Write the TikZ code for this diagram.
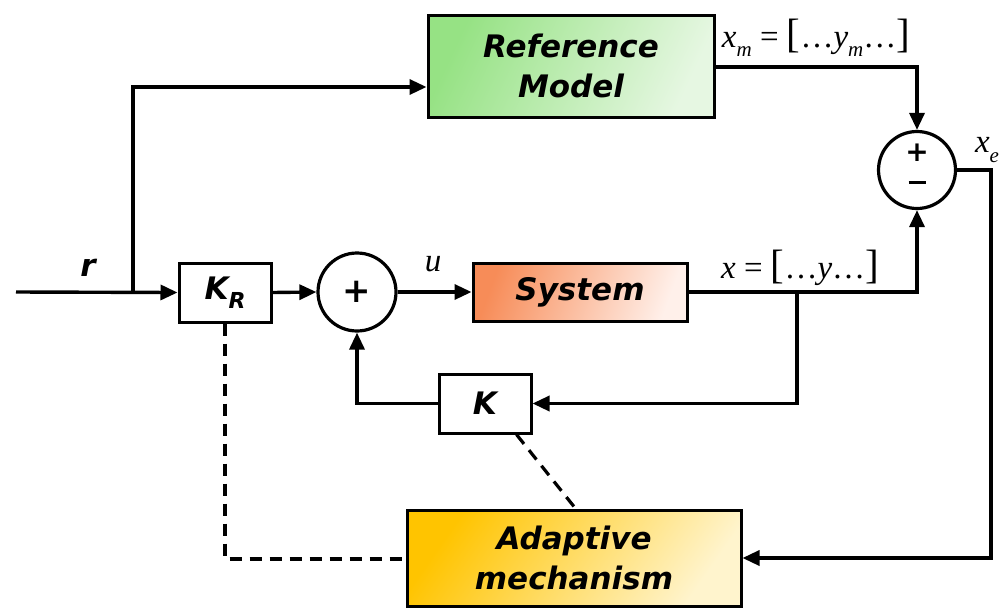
\documentclass[tikz,border=0pt]{standalone}
\usepackage{fontspec}
\newfontfamily\vb{DejaVu Sans}
\newfontfamily\tms{Liberation Serif}
\usetikzlibrary{arrows.meta,calc}
\definecolor{gA}{RGB}{150,226,132}
\definecolor{gB}{RGB}{230,247,226}
\definecolor{oA}{RGB}{247,140,88}
\definecolor{oB}{RGB}{255,240,234}
\definecolor{yA}{RGB}{255,196,0}
\definecolor{yB}{RGB}{255,244,205}
\newcommand\vsz{\fontsize{33}{33}\selectfont}
\newcommand\bsz{\fontsize{41}{41}\selectfont}
\newcommand\ssz{\fontsize{21}{21}\selectfont}
\newcommand\mysub[1]{\raisebox{-0.28em}{\ssz\itshape #1}}
\tikzset{
  blk/.style={draw=black, line width=3pt, inner sep=0pt, align=center,
    font=\vb\bfseries\itshape\fontsize{31}{40}\selectfont},
  gainbox/.style={blk, fill=white, minimum width=92pt, minimum height=59pt},
  sumnode/.style={draw=black, line width=3.2pt, circle, minimum size=78pt, inner sep=0pt},
  sig/.style={font=\vb\bfseries\fontsize{34}{34}\selectfont, inner sep=0pt},
  wire/.style={line width=3.4pt, line join=miter},
  arr/.style={wire, -{Triangle[length=17pt,width=15pt]}},
  dashln/.style={line width=3.2pt, dash pattern=on 12pt off 8pt},
  lbl/.style={inner sep=0pt, font=\tms\vsz}
}
\begin{document}
\begin{tikzpicture}[x=1pt,y=-1pt]
\useasboundingbox (0,0) rectangle (1008,608);
\clip (0,0) rectangle (1008,608);
% blocks
\node[blk, minimum width=286pt, minimum height=102pt, left color=gA, right color=gB, shading angle=65] (ref) at (571,66) {Reference\\Model};
\node[gainbox] (kr) at (225,292.5) {K\raisebox{-0.28em}{\fontsize{22}{22}\selectfont R}};
\node[sumnode] (s1) at (357,292) {};
\node[sig] at (s1.center) {+};
\node[blk, minimum width=214pt, minimum height=58pt, left color=oA, right color=oB, shading angle=70] (sys) at (580,292) {System};
\node[gainbox] (k) at (485,403.5) {K};
\node[sumnode, minimum size=77pt] (s2) at (917,170) {};
\node[sig, font=\vb\bfseries\fontsize{28}{28}\selectfont] at (917,153) {+};
\node[sig] at (917,187) {\rule[0.25em]{0.5em}{0.1em}};
\node[blk, minimum width=334pt, minimum height=96pt, left color=yA, right color=yB, shading angle=55] (ad) at (574,558) {Adaptive\\mechanism};
% coordinates
\coordinate (in) at (16,292);
\coordinate (br) at (133,292);
\coordinate (refin) at (ref.west |- 0,87);
\coordinate (refout) at (ref.east |- 0,67);
\coordinate (br2) at (797,292);
\coordinate (xe) at (991,170);
\coordinate (krd) at (225,559);
\coordinate (kdA) at ($(k.south east)+(-16,0)$);
\coordinate (kdB) at ($(ad.north west)+(170,0)$);
% connectors
\draw[arr] (in) -- (kr.west);
\draw[arr] (br) |- (refin);
\draw[arr] (refout) -| (s2.north);
\draw[arr] (kr.east) -- (s1.west);
\draw[arr] (s1.east) -- (sys.west);
\draw[arr] (sys.east) -| (s2.south);
\draw[arr] (br2) |- (k.east);
\draw[arr] (k.west) -| (s1.south);
\draw[arr] (s2.east) -- (xe) |- (ad.east);
\draw[dashln] (kr.south) -- (krd) -- (ad.west |- krd);
\draw[dashln] (kdA) -- (kdB);
% labels
\node[lbl, font=\vb\bfseries\itshape\fontsize{31}{31}\selectfont] (r) at (88,268) {r};
\node[lbl] (u) at (433,264) {\itshape u};
\node[lbl] (xl) at (800,268) {\itshape x \upshape= \bsz[\vsz…\itshape y\upshape…\bsz]};
\node[lbl] (xml) at (816,38) {\itshape x\mysub{m} \upshape= \bsz[\vsz…\itshape y\mysub{m}\upshape…\bsz]};
\node[lbl] (xel) at (987,150) {\itshape x\mysub{e}};
\end{tikzpicture}
\end{document}
